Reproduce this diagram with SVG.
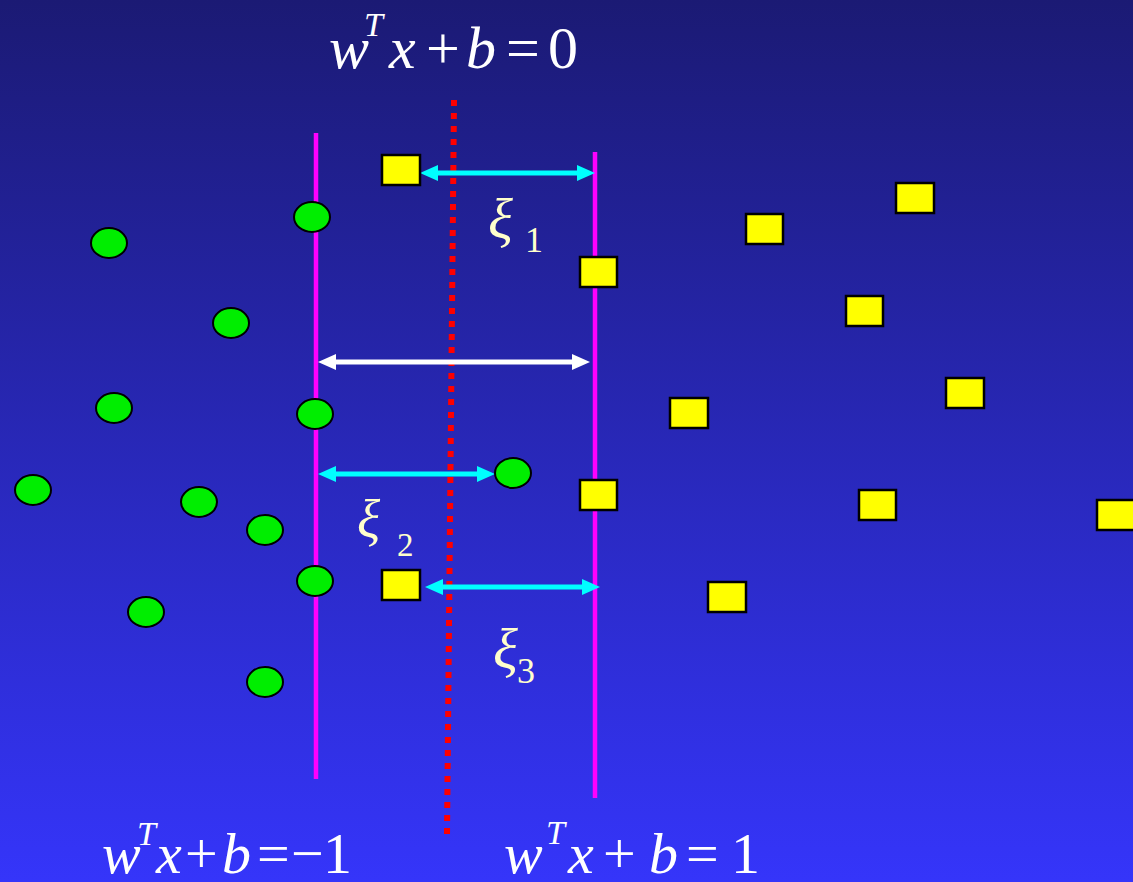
<svg xmlns="http://www.w3.org/2000/svg" width="1133" height="882" viewBox="0 0 1133 882">
<defs>
<linearGradient id="bg" x1="0" y1="0" x2="0" y2="1">
<stop offset="0" stop-color="#1b1a74"/>
<stop offset="1" stop-color="#3535fa"/>
</linearGradient>
<marker id="ac" viewBox="0 0 18 16" refX="9" refY="8" markerWidth="18" markerHeight="16" markerUnits="userSpaceOnUse" orient="auto-start-reverse">
<path d="M0,0 L18,8 L0,16 Z" fill="#00ffff"/>
</marker>
<marker id="aw" viewBox="0 0 18 16" refX="9" refY="8" markerWidth="18" markerHeight="16" markerUnits="userSpaceOnUse" orient="auto-start-reverse">
<path d="M0,0 L18,8 L0,16 Z" fill="#ffffff"/>
</marker>
</defs>
<style>
.sq{fill:#ffff00;stroke:#000;stroke-width:2.5}
.ci{fill:#00ee00;stroke:#000;stroke-width:2}
.mag{stroke:#ff00ff;stroke-width:4.5;fill:none}
.cy{stroke:#00ffff;stroke-width:5;fill:none;marker-start:url(#ac);marker-end:url(#ac)}
.wh{stroke:#ffffff;stroke-width:5;fill:none;marker-start:url(#aw);marker-end:url(#aw)}
.eq{font-family:"Liberation Serif",serif;fill:#ffffff}
.it{font-style:italic}
.xi{font-family:"Liberation Serif",serif;fill:#ffffcc}
</style>
<rect x="0" y="0" width="1133" height="882" fill="url(#bg)"/>

<g id="boundaries">
<line x1="454" y1="100" x2="447" y2="835" stroke="#ff0000" stroke-width="6" stroke-dasharray="6 7"/>
<line class="mag" x1="316" y1="133" x2="316" y2="779"/>
<line class="mag" x1="595" y1="152" x2="595" y2="798"/>
</g>

<g id="connectors">
<line class="cy" x1="429" y1="173" x2="586" y2="173"/>
<line class="wh" x1="327" y1="362" x2="581" y2="362"/>
<line class="cy" x1="327" y1="474" x2="486" y2="474"/>
<line class="cy" x1="434" y1="587" x2="591" y2="587"/>
</g>

<g id="squares">
<rect class="sq" x="382" y="155" width="38" height="30"/>
<rect class="sq" x="580" y="257" width="37" height="30"/>
<rect class="sq" x="746" y="214" width="37" height="30"/>
<rect class="sq" x="896" y="183" width="38" height="30"/>
<rect class="sq" x="846" y="296" width="37" height="30"/>
<rect class="sq" x="946" y="378" width="38" height="30"/>
<rect class="sq" x="670" y="398" width="38" height="30"/>
<rect class="sq" x="580" y="480" width="37" height="30"/>
<rect class="sq" x="859" y="490" width="37" height="30"/>
<rect class="sq" x="1097" y="500" width="38" height="30"/>
<rect class="sq" x="382" y="570" width="38" height="30"/>
<rect class="sq" x="708" y="582" width="38" height="30"/>
</g>

<g id="circles">
<ellipse class="ci" cx="312" cy="217" rx="18" ry="15"/>
<ellipse class="ci" cx="109" cy="243" rx="18" ry="15"/>
<ellipse class="ci" cx="231" cy="323" rx="18" ry="15"/>
<ellipse class="ci" cx="114" cy="408" rx="18" ry="15"/>
<ellipse class="ci" cx="315" cy="414" rx="18" ry="15"/>
<ellipse class="ci" cx="513" cy="473" rx="18" ry="15"/>
<ellipse class="ci" cx="33" cy="490" rx="18" ry="15"/>
<ellipse class="ci" cx="199" cy="502" rx="18" ry="15"/>
<ellipse class="ci" cx="265" cy="530" rx="18" ry="15"/>
<ellipse class="ci" cx="315" cy="581" rx="18" ry="15"/>
<ellipse class="ci" cx="146" cy="612" rx="18" ry="15"/>
<ellipse class="ci" cx="265" cy="682" rx="18" ry="15"/>
</g>

<g id="label-top">
<text class="eq" font-size="60" y="68"><tspan class="it" x="329">w</tspan><tspan class="it" x="364" y="36" font-size="34">T</tspan><tspan class="it" x="389" y="68">x</tspan><tspan x="426">+</tspan><tspan class="it" x="466">b</tspan><tspan x="506">=</tspan><tspan x="548">0</tspan></text>
</g>

<g id="label-left">
<text class="eq" font-size="58" y="873"><tspan class="it" x="102">w</tspan><tspan class="it" x="137" y="845" font-size="34">T</tspan><tspan class="it" x="156" y="873">x</tspan><tspan x="185">+</tspan><tspan class="it" x="222">b</tspan><tspan x="257">=</tspan><tspan x="291">−</tspan><tspan x="323">1</tspan></text>
</g>

<g id="label-right">
<text class="eq" font-size="58" y="873"><tspan class="it" x="504">w</tspan><tspan class="it" x="546" y="844" font-size="34">T</tspan><tspan class="it" x="568" y="873">x</tspan><tspan x="603">+</tspan><tspan class="it" x="649">b</tspan><tspan x="686">=</tspan><tspan x="731">1</tspan></text>
</g>

<g id="xi-labels">
<text class="xi" y="238"><tspan class="it" x="488" font-size="58">ξ</tspan><tspan x="525" y="252" font-size="36">1</tspan></text>
<text class="xi" y="538"><tspan class="it" x="357" font-size="54">ξ</tspan><tspan x="397" y="556" font-size="33">2</tspan></text>
<text class="xi" y="668"><tspan class="it" x="493" font-size="58">ξ</tspan><tspan x="517" y="683" font-size="36">3</tspan></text>
</g>
</svg>
